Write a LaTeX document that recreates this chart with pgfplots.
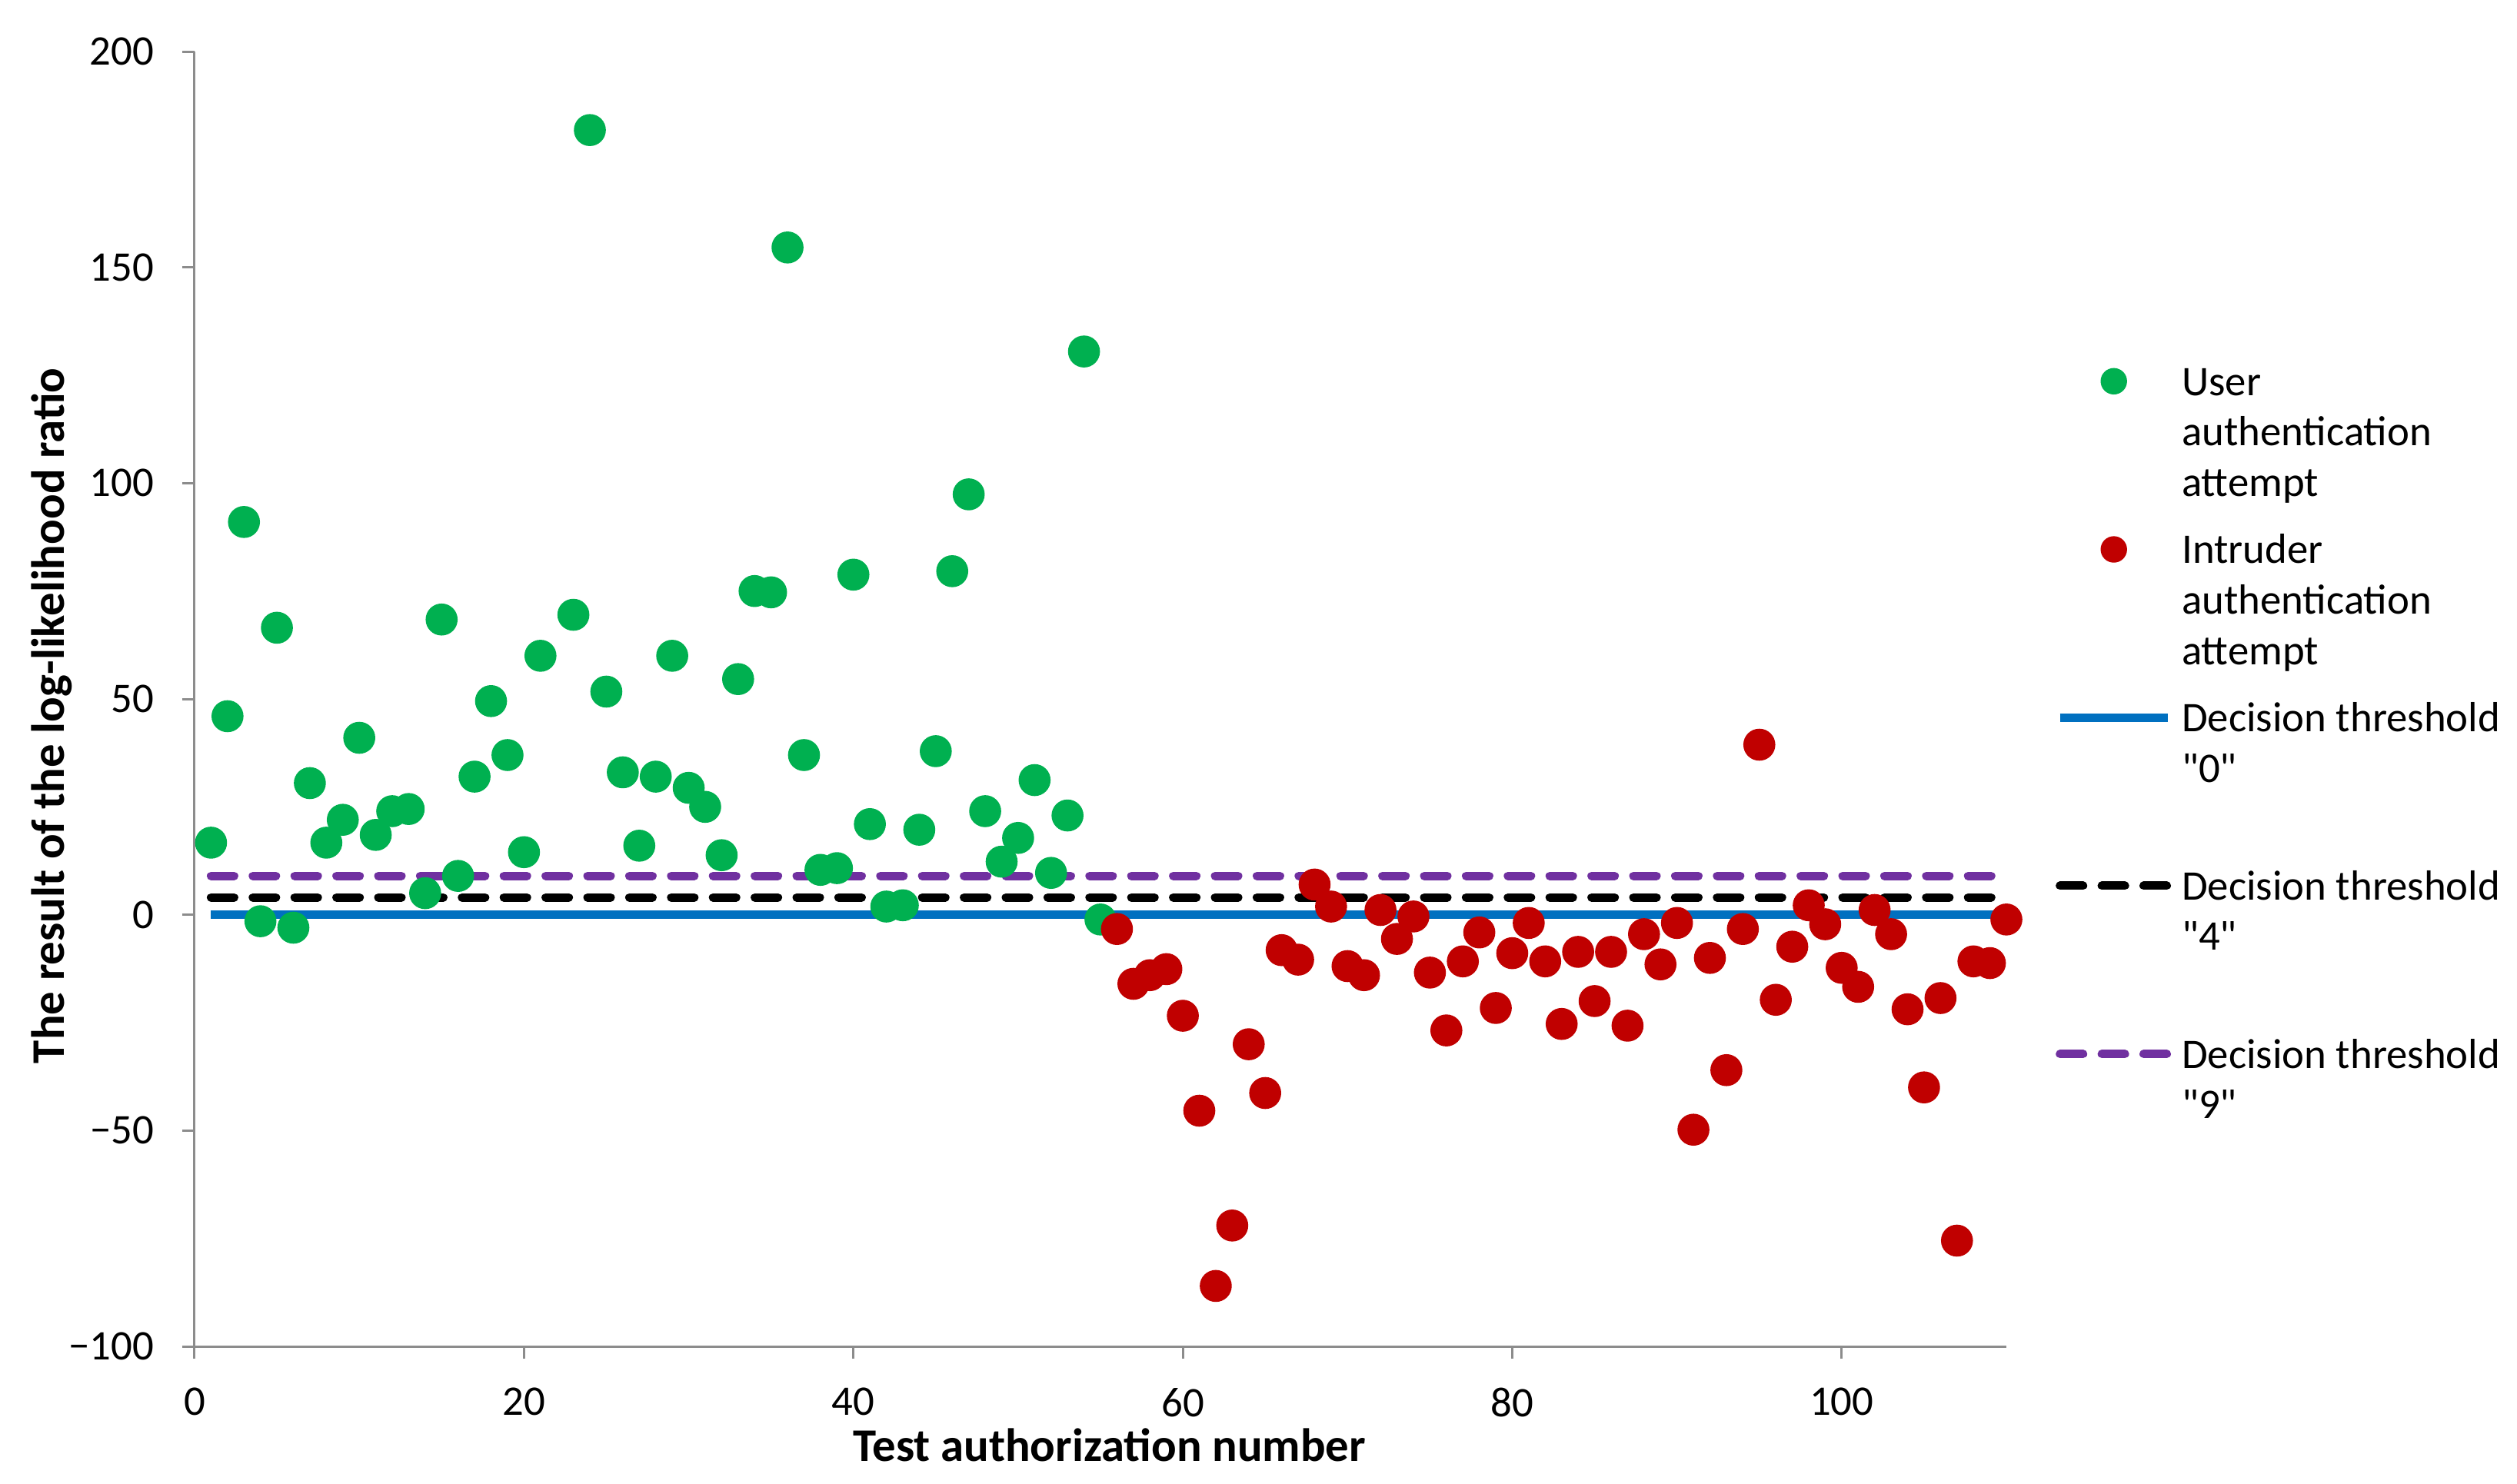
\documentclass[border=0pt]{standalone}
\usepackage{fontspec}
\setmainfont{Carlito}[Ligatures=TeXOff]
\usepackage{pgfplots}
\pgfplotsset{compat=1.18}
\definecolor{usergreen}{HTML}{00B050}
\definecolor{intruderred}{HTML}{C00000}
\definecolor{thrblue}{HTML}{0070C0}
\definecolor{thrpurple}{HTML}{7030A0}
\definecolor{axisgray}{HTML}{8C8C8C}
\newcommand{\lfont}{\fontsize{13.7}{16.4}\selectfont}
\newcommand{\labfont}{\fontsize{15.2}{18}\selectfont\bfseries}

\begin{document}
\begin{tikzpicture}
\useasboundingbox (-63.25pt,-44.5pt) rectangle (755pt,437.75pt);
\begin{axis}[
  scale only axis, width=589pt, height=421pt,
  xmin=0, xmax=110, ymin=-100, ymax=200,
  xtick={0,20,...,100},
  ytick={-100,-50,...,200},
  yticklabels={−100,−50,0,50,100,150,200},
  /pgf/number format/assume math mode=true,
  axis x line*=bottom, axis y line*=left,
  axis line style={draw=axisgray, line width=0.75pt, -},
  tick style={draw=axisgray, line width=0.75pt},
  tick align=outside, major tick length=4pt,
  font=\lfont,
  ticklabel style={font=\lfont, inner sep=0pt},
  yticklabel style={anchor=east, xshift=-9pt},
  xticklabel style={anchor=north, yshift=-9.4pt},
  xlabel={Test authorization number},
  ylabel={The result of the log-likelihood ratio},
  every axis x label/.style={at={(axis description cs:0.505,-0.076)}, anchor=center, font=\labfont},
  every axis y label/.style={at={(axis description cs:-0.079,0.487)}, rotate=90, anchor=center, font=\labfont},
  clip=false,
  legend style={draw=none, fill=none, at={(1,1)}, anchor=north west,
    xshift=15.85pt, yshift=-99.9pt, inner sep=0pt, row sep=8.7pt, column sep=3.25pt,
    font=\lfont, nodes={align=left, anchor=north west, inner sep=0pt}},
]
% decision thresholds (drawn first so the points lie on top)
\addplot[forget plot, color=thrblue, line width=2.75pt] coordinates {(1,0) (110,0)};
\addplot[forget plot, color=black, line width=2.75pt, line cap=round, dash pattern=on 7.5pt off 6.1pt] coordinates {(1,4) (110,4)};
\addplot[forget plot, color=thrpurple, line width=2.75pt, line cap=round, dash pattern=on 7.5pt off 6.1pt] coordinates {(1,9) (110,9)};

% user attempts
\addplot[only marks, mark=*, mark size=5pt, color=usergreen, mark options={draw=none},
  legend image code/.code={\fill[usergreen] (17.5pt,-7.1pt) circle (4.1pt);}]
coordinates {
(1,16.7) (2,46) (3,91) (4,-1.5) (5,66.5) (6,-3) (7,30.5) (8,16.7) (9,22) (10,41)
(11,18.5) (12,24) (13,24.5) (14,5) (15,68.4) (16,9) (17,32) (18,49.5) (19,37) (20,14.5)
(21,60) (23,69.5) (24,181.8) (25,51.7) (26,33) (27,16) (28,32) (29,60) (30,29.4)
(31,25) (32,13.8) (33,54.6) (34,75) (35,74.7) (36,154.6) (37,37) (38,10.4) (39,10.8) (40,78.8)
(41,21) (42,1.9) (43,2.2) (44,19.7) (45,37.9) (46,79.6) (47,97.4) (48,24) (49,12.3) (50,17.8)
(51,31.2) (52,9.7) (53,23) (54,130.5) (55,-1.1)
};
\addlegendentry{\strut User\\\strut authentication\\\strut attempt}

% intruder attempts
\addplot[only marks, mark=*, mark size=5pt, color=intruderred, mark options={draw=none},
  legend image code/.code={\fill[intruderred] (17.5pt,-7.1pt) circle (4.1pt);}]
coordinates {
(56,-3.3) (57,-16) (58,-14) (59,-12.6) (60,-23.4) (61,-45.4) (62,-86) (63,-72) (64,-30) (65,-41.3)
(66,-8.2) (67,-10.4) (68,7) (69,1.9) (70,-11.9) (71,-14) (72,1.1) (73,-5.6) (74,-0.4) (75,-13.4)
(76,-26.8) (77,-10.8) (78,-4.1) (79,-21.6) (80,-8.9) (81,-1.9) (82,-10.8) (83,-25.3) (84,-8.6) (85,-20)
(86,-8.6) (87,-25.7) (88,-4.5) (89,-11.5) (90,-1.9) (91,-49.8) (92,-10) (93,-36) (94,-3.3) (95,39.4)
(96,-19.7) (97,-7.4) (98,2.2) (99,-2.2) (100,-12.3) (101,-16.7) (102,1.1) (103,-4.5) (104,-21.9) (105,-40)
(106,-19.3) (107,-75.5) (108,-10.8) (109,-11.2) (110,-1.1)
};
\addlegendentry{\strut Intruder\\\strut authentication\\\strut attempt}

\addlegendimage{legend image code/.code={\draw[thrblue, line width=2.75pt] (0pt,-7.1pt) -- (35pt,-7.1pt);}}
\addlegendentry{\strut Decision threshold\\\strut "0"\\\strut}
\addlegendimage{legend image code/.code={\draw[black, line width=2.75pt, line cap=round, dash pattern=on 7.5pt off 6.1pt] (0pt,-7.1pt) -- (35pt,-7.1pt);}}
\addlegendentry{\strut Decision threshold\\\strut "4"\\\strut}
\addlegendimage{legend image code/.code={\draw[thrpurple, line width=2.75pt, line cap=round, dash pattern=on 7.5pt off 6.1pt] (0pt,-7.1pt) -- (35pt,-7.1pt);}}
\addlegendentry{\strut Decision threshold\\\strut "9"\\\strut}
\end{axis}
\end{tikzpicture}
\end{document}
